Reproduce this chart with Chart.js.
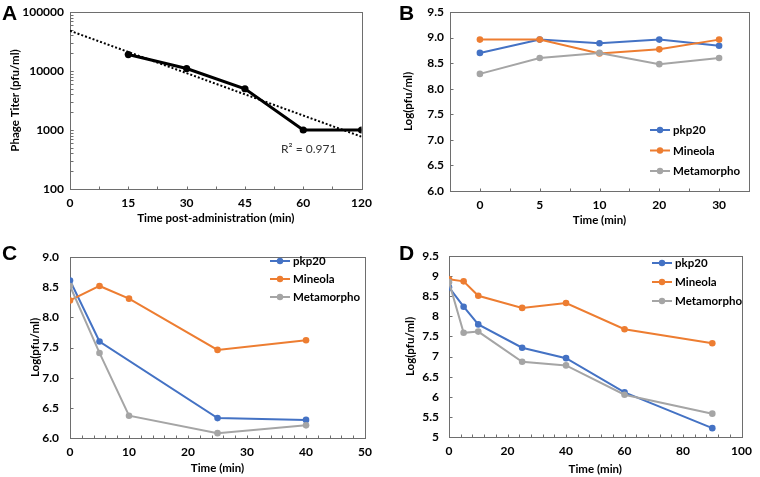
<!DOCTYPE html>
<html><head><meta charset="utf-8">
<script src="https://cdn.jsdelivr.net/npm/chart.js@4.4.0/dist/chart.umd.min.js"></script>
<style>
body{margin:0;background:#fff;width:760px;height:477px;position:relative;overflow:hidden}
canvas{position:absolute}
.lab{position:absolute;font:bold 21px "Liberation Sans",Arial,sans-serif;line-height:1;color:#000}
</style></head><body>
<canvas id="cA" width="380" height="240" style="left:0;top:0"></canvas>
<canvas id="cB" width="380" height="240" style="left:380px;top:0"></canvas>
<canvas id="cC" width="380" height="237" style="left:0;top:240px"></canvas>
<canvas id="cD" width="380" height="237" style="left:380px;top:240px"></canvas>
<div class="lab" style="left:2px;top:2px">A</div>
<div class="lab" style="left:399px;top:2px">B</div>
<div class="lab" style="left:2px;top:242px">C</div>
<div class="lab" style="left:399px;top:242px">D</div>
<script>
// ---- Panel A data ----
const aTimeLabels = ['0','15','30','45','60','120'];
const aTimeIndex = [1,2,3,4,5];
const aTiter = [19000,11000,5000,1000,1000];
const aTrendIndex = [0,5];
const aTrendValues = [48000,770];
const aYLabels = [100,1000,10000,100000];
const aR2 = 'R\u00B2 = 0.971';
// ---- Panel B data ----
const bTimes = ['0','5','10','20','30'];
const bPkp20 = [8.70,8.96,8.89,8.96,8.84];
const bMineola = [8.96,8.96,8.69,8.77,8.96];
const bMetamorpho = [8.29,8.60,8.70,8.48,8.60];
// ---- Panel C data ----
const cPkp20Times = [0,5,25,40];
const cPkp20 = [8.61,7.60,6.33,6.30];
const cTimes = [0,5,10,25,40];
const cMineola = [8.28,8.52,8.31,7.46,7.62];
const cMetamorpho = [8.52,7.41,6.37,6.08,6.21];
// ---- Panel D data ----
const dTimes = [0,5,10,25,40,60,90];
const dPkp20 = [8.72,8.24,7.80,7.22,6.96,6.11,5.22];
const dMineola = [8.92,8.87,8.51,8.21,8.33,7.68,7.33];
const dMetamorpho = [8.85,7.59,7.62,6.87,6.78,6.05,5.58];
const seriesNames = ['pkp20','Mineola','Metamorpho'];
const seriesColors = ['#4472C4','#ED7D31','#A5A5A5'];

const xy = (xs, ys) => xs.map((x,i)=>({x, y: ys[i]}));
const range = (a,b,s) => { const r=[]; for(let v=a; v<=b+1e-9; v+=s) r.push(+v.toFixed(4)); return r; };

const FONT = 'Lato, "Noto Sans", sans-serif';
const AXC = '#6e6e6e';

const framePlugin = {
  id:'frame',
  beforeDatasetsDraw(chart, args, opts){
    const {ctx, chartArea:a, scales:{x,y}} = chart;
    ctx.save();
    ctx.strokeStyle = AXC; ctx.lineWidth = 1;
    const l=Math.round(a.left)+0.5, t=Math.round(a.top)+0.5, r=Math.round(a.right)+0.5, b=Math.round(a.bottom)+0.5;
    ctx.strokeRect(l,t,r-l,b-t);
    const L = opts.len || 4;
    ctx.beginPath();
    (opts.xTicks||[]).forEach(v=>{const px=Math.round(x.getPixelForValue(v))+0.5; ctx.moveTo(px,b); ctx.lineTo(px,b-L);});
    (opts.yTicks||[]).forEach(v=>{const py=Math.round(y.getPixelForValue(v))+0.5; ctx.moveTo(l,py); ctx.lineTo(l+L,py);});
    ctx.stroke();
    ctx.restore();
  }
};
const legendPlugin = {
  id:'lgd',
  afterDatasetsDraw(chart, args, opts){
    if(opts.x === undefined) return;
    const ctx = chart.ctx;
    chart.data.datasets.forEach((ds,i)=>{
      const y = opts.y + i*opts.gap, x = opts.x;
      ctx.save();
      ctx.strokeStyle = ds.borderColor; ctx.lineWidth = 2;
      ctx.beginPath(); ctx.moveTo(x,y); ctx.lineTo(x+20,y); ctx.stroke();
      ctx.fillStyle = ds.borderColor; ctx.beginPath(); ctx.arc(x+10,y,3.2,0,Math.PI*2); ctx.fill();
      ctx.fillStyle = '#000'; ctx.font = 'bold 11.5px ' + FONT; ctx.textBaseline = 'middle';
      ctx.fillText(ds.label, x+23, y+0.5);
      ctx.restore();
    });
  }
};
const notePlugin = {
  id:'note',
  afterDatasetsDraw(chart, args, opts){
    if(!opts.text) return;
    const {ctx, scales:{x,y}} = chart;
    ctx.save();
    ctx.fillStyle = '#333'; ctx.font = '12px ' + FONT; ctx.textBaseline = 'middle';
    ctx.fillText(opts.text, x.getPixelForValue(opts.x), y.getPixelForValue(opts.y));
    ctx.restore();
  }
};

function makeScales(o){
  return {
    x: {
      grid:{display:false, drawTicks:false, tickLength:0}, border:{display:false},
      ticks:{color:'#000', font:{family:FONT, weight:'bold', size:12, lineHeight:1}, padding:o.xPad, maxRotation:0, autoSkip:false},
      title:{display:true, text:o.xTitle, color:'#000', font:{family:FONT, weight:'bold', size:11.5}, padding:{top:0,bottom:o.xTitlePad}},
      afterFit(s){ s.height = o.xH; }
    },
    y: {
      grid:{display:false, drawTicks:false, tickLength:0}, border:{display:false},
      ticks:{color:'#000', font:{family:FONT, weight:'bold', size:12, lineHeight:1}, padding:o.yPad, autoSkip:false},
      title:{display:true, text:o.yTitle, color:'#000', font:{family:FONT, weight:'bold', size:11.5}, padding:{top:o.yTitlePad,bottom:0}},
      afterFit(s){ s.width = o.yW; }
    }
  };
}

function baseOptions(pad, scales, pl){
  return {
    responsive:false, animation:false, devicePixelRatio:1,
    layout:{padding:pad},
    plugins:Object.assign({legend:{display:false}, tooltip:{enabled:false}}, pl),
    scales
  };
}
function seriesDS(label, color, data, order){
  return {label, data, borderColor:color, backgroundColor:color, pointBackgroundColor:color, pointBorderColor:color,
          borderWidth:2, pointRadius:3.3, pointBorderWidth:0, pointHoverRadius:3.3, tension:0, order};
}

// ---------- A ----------
(function(){
  const sc = makeScales({xTitle:'Time post-administration (min)', yTitle:'Phage Titer (pfu/ml)', xPad:8, yPad:6, xH:51, yW:70, xTitlePad:15, yTitlePad:8});
  sc.x.type='linear'; sc.x.min=0; sc.x.max=5;
  sc.x.ticks = Object.assign({}, sc.x.ticks, {stepSize:1, callback:(v)=>aTimeLabels[v] ?? ''});
  sc.y.type='logarithmic'; sc.y.min=100; sc.y.max=100000;
  sc.y.ticks = Object.assign({}, sc.y.ticks, {callback:(v)=> aYLabels.includes(v) ? String(v) : ''});
  const yMinor=[]; [100,1000,10000].forEach(d=>{ for(let m=1;m<=10;m++) yMinor.push(d*m); });
  new Chart(document.getElementById('cA'), {
    type:'line',
    data:{datasets:[
      {label:'Titer', data:xy(aTimeIndex, aTiter), borderColor:'#000', backgroundColor:'#000', pointBackgroundColor:'#000', pointBorderColor:'#000', borderWidth:3, pointRadius:3.6, pointBorderWidth:0, tension:0},
      {label:'Trend', data:xy(aTrendIndex, aTrendValues), borderColor:'#000', borderWidth:2, borderDash:[2,2], pointRadius:0, tension:0}
    ]},
    options:baseOptions({top:6,right:15,left:0,bottom:0}, sc, {
      frame:{xTicks:range(0,5,0.5), yTicks:yMinor, len:3},
      note:{text:aR2, x:3.62, y:480}
    }),
    plugins:[framePlugin, notePlugin]
  });
})();

// ---------- B ----------
(function(){
  const sc = makeScales({xTitle:'Time (min)', yTitle:'Log(pfu/ml)', xPad:8, yPad:6, xH:49, yW:70, xTitlePad:13, yTitlePad:21});
  sc.x.type='category'; sc.x.offset=true;
  sc.y.type='linear'; sc.y.min=6; sc.y.max=9.5;
  sc.y.ticks = Object.assign({}, sc.y.ticks, {stepSize:0.5, callback:(v)=>v.toFixed(1)});
  new Chart(document.getElementById('cB'), {
    type:'line',
    data:{labels:bTimes, datasets:[
      seriesDS(seriesNames[0], seriesColors[0], bPkp20, 3),
      seriesDS(seriesNames[1], seriesColors[1], bMineola, 2),
      seriesDS(seriesNames[2], seriesColors[2], bMetamorpho, 1)
    ]},
    options:baseOptions({top:7,right:11,left:0,bottom:0}, sc, {
      frame:{xTicks:range(-0.5,4.5,0.5), yTicks:range(6,9.5,0.5), len:3},
      lgd:{x:270, y:130, gap:20.5}
    }),
    plugins:[framePlugin, legendPlugin]
  });
})();

// ---------- C ----------
(function(){
  const sc = makeScales({xTitle:'Time (min)', yTitle:'Log(pfu/ml)', xPad:8, yPad:11, xH:39, yW:70, xTitlePad:2, yTitlePad:28});
  sc.x.type='linear'; sc.x.min=0; sc.x.max=50;
  sc.x.ticks = Object.assign({}, sc.x.ticks, {stepSize:10});
  sc.y.type='linear'; sc.y.min=6; sc.y.max=9;
  sc.y.ticks = Object.assign({}, sc.y.ticks, {stepSize:0.5, callback:(v)=>v.toFixed(1)});
  new Chart(document.getElementById('cC'), {
    type:'line',
    data:{datasets:[
      seriesDS(seriesNames[0], seriesColors[0], xy(cPkp20Times, cPkp20), 3),
      seriesDS(seriesNames[1], seriesColors[1], xy(cTimes, cMineola), 2),
      seriesDS(seriesNames[2], seriesColors[2], xy(cTimes, cMetamorpho), 1)
    ]},
    options:baseOptions({top:11,right:12,left:0,bottom:0}, sc, {
      frame:{xTicks:range(0,50,2), yTicks:range(6,9,0.5), len:3},
      lgd:{x:270, y:21, gap:18}
    }),
    plugins:[framePlugin, legendPlugin]
  });
})();

// ---------- D ----------
(function(){
  const sc = makeScales({xTitle:'Time (min)', yTitle:'Log(pfu/ml)', xPad:8, yPad:10, xH:40, yW:69, xTitlePad:1, yTitlePad:23});
  sc.x.type='linear'; sc.x.min=0; sc.x.max=100;
  sc.x.ticks = Object.assign({}, sc.x.ticks, {stepSize:20});
  sc.y.type='linear'; sc.y.min=5; sc.y.max=9.5;
  sc.y.ticks = Object.assign({}, sc.y.ticks, {stepSize:0.5, callback:(v)=>String(v)});
  new Chart(document.getElementById('cD'), {
    type:'line',
    data:{datasets:[
      seriesDS(seriesNames[0], seriesColors[0], xy(dTimes, dPkp20), 3),
      seriesDS(seriesNames[1], seriesColors[1], xy(dTimes, dMineola), 2),
      seriesDS(seriesNames[2], seriesColors[2], xy(dTimes, dMetamorpho), 1)
    ]},
    options:baseOptions({top:11,right:11,left:0,bottom:0}, sc, {
      frame:{xTicks:range(0,100,4), yTicks:range(5,9.5,0.5), len:3},
      lgd:{x:272, y:23, gap:19}
    }),
    plugins:[framePlugin, legendPlugin]
  });
})();
</script>
</body></html>
